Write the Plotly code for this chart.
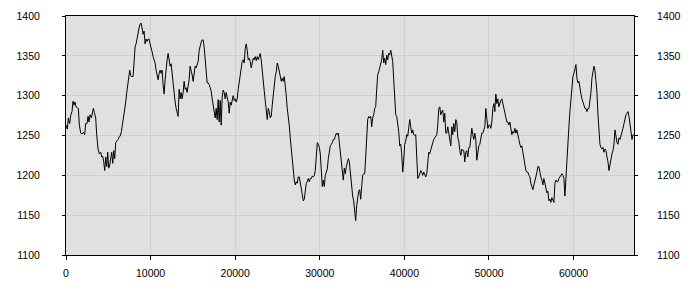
import numpy as np
import plotly.graph_objects as go

# sample positions (first samples irregular, then regular runs)
x_head = [0,158,276,434,552,710,828,947,1065,1184,1341,1460,1578,1736,1894,2051,2209,2328,2485,2604,
          2722,2840,2998,3117,3235,3353,3511,3629,3787,3945,4103,4221,4340,4458,4576,4695,4813,4931,5050,5168,
          5286,5405,5523,5641,5760,5878,5996,6154,6273,6391,6549,6667,6785,6904,7062,7180,7298,7417,7535,7653,
          7772,7930,8048]
x_run1 = np.linspace(8166, 33493, 215)
x_run2 = np.linspace(33651, 67144, 284)

values = [
1263,1258,1272,1265,1275,1280,1293,1288,1292,1286,1285,1284,1263,1253,1252,1254,1251,1265,1265,1274,
1267,1276,1272,1280,1284,1279,1272,1251,1233,1227,1229,1223,1224,1217,1206,1223,1211,1229,1209,1213,
1221,1229,1215,1231,1221,1241,1243,1245,1248,1249,1255,1263,1272,1280,1292,1304,1314,1322,1332,1325,
1324,1324,1349,1361,1365,1373,1377,1385,1390,1391,1385,1377,1381,1365,1371,1368,1371,1371,1365,1357,
1355,1349,1345,1341,1332,1326,1320,1328,1332,1328,1332,1314,1302,1320,1339,1345,1353,1341,1337,1340,
1326,1310,1304,1292,1284,1280,1274,1308,1296,1304,1296,1304,1318,1308,1310,1304,1312,1320,1337,1332,
1326,1318,1330,1337,1335,1339,1343,1357,1363,1367,1370,1370,1361,1345,1322,1316,1316,1314,1310,1306,
1296,1288,1280,1272,1284,1270,1295,1267,1294,1263,1298,1307,1304,1296,1304,1298,1292,1278,1292,1288,
1296,1300,1294,1296,1292,1296,1308,1316,1328,1337,1343,1345,1341,1359,1365,1357,1345,1347,1343,1335,
1341,1347,1345,1349,1344,1349,1345,1348,1353,1345,1328,1320,1306,1294,1282,1270,1284,1280,1272,1274,
1288,1300,1316,1324,1330,1341,1337,1330,1326,1318,1322,1318,1324,1314,1300,1284,1276,1263,1247,1231,
1219,1204,1194,1188,1192,1190,1198,1198,1192,1186,1176,1168,1170,1180,1190,1192,1196,1192,1196,1196,
1199,1198,1200,1206,1223,1241,1239,1235,1227,1211,1186,1194,1186,1200,1204,1208,1221,1231,1237,1239,
1241,1245,1245,1249,1253,1251,1253,1241,1229,1217,1206,1194,1209,1202,1211,1219,1221,1217,
1198,1186,1174,1168,1158,1143,1162,1174,1180,1182,1170,1186,1200,1202,1202,1223,1247,1270,1274,1272,
1274,1261,1272,1276,1284,1286,1308,1326,1330,1335,1341,1345,1357,1341,1347,1339,1351,1345,1353,1351,
1357,1349,1343,1320,1286,1276,1274,1267,1255,1237,1239,1227,1204,1219,1239,1243,1251,1249,1257,1270,
1261,1253,1257,1251,1250,1251,1223,1196,1198,1202,1206,1204,1200,1204,1200,1198,1202,1217,1229,1227,
1233,1239,1241,1245,1247,1248,1251,1263,1284,1286,1276,1280,1282,1267,1278,1253,1253,1261,1253,1239,
1237,1261,1251,1265,1255,1270,1267,1247,1243,1231,1225,1233,1231,1231,1217,1229,1231,1223,1235,1235,
1247,1259,1251,1245,1253,1245,1219,1231,1237,1239,1245,1253,1253,1257,1261,1284,1267,1259,1263,1263,
1259,1267,1284,1290,1280,1302,1290,1296,1286,1292,1294,1296,1290,1284,1280,1274,1267,1267,1263,1267,
1257,1251,1255,1253,1259,1253,1257,1249,1245,1239,1235,1237,1229,1223,1215,1206,1204,1204,1200,1198,
1190,1186,1182,1188,1192,1198,1204,1211,1211,1202,1198,1194,1188,1196,1188,1186,1178,1180,1168,1170,
1166,1172,1168,1166,1190,1194,1192,1192,1196,1198,1200,1202,1200,1196,1174,1200,1219,1239,1261,1280,
1298,1316,1324,1328,1335,1339,1322,1316,1318,1308,1302,1296,1292,1290,1284,1284,1280,1284,1284,1294,
1304,1322,1332,1337,1332,1320,1304,1276,1255,1239,1235,1233,1235,1229,1233,1231,1223,1217,1206,1215,
1223,1227,1231,1239,1257,1245,1241,1239,1247,1245,1249,1255,1259,1265,1272,1276,1278,1280,1274,1263,
1253,1245,1251,1250,
]
x_values = np.concatenate([np.array(x_head, dtype=float), x_run1, x_run2])

x_ticks = [0, 10000, 20000, 30000, 40000, 50000, 60000]
y_ticks = [1100, 1150, 1200, 1250, 1300, 1350, 1400]

font = dict(family="Liberation Sans, Arial, sans-serif", size=10.5, color="black")

fig = go.Figure()
fig.add_trace(go.Scatter(x=x_values, y=values, mode="lines",
                         line=dict(color="black", width=1), showlegend=False,
                         hoverinfo="skip"))
# carrier for the right-hand axis
fig.add_trace(go.Scatter(x=x_values, y=values, mode="lines", yaxis="y2",
                         line=dict(color="rgba(0,0,0,0)", width=0), showlegend=False,
                         hoverinfo="skip"))

fig.update_layout(
    width=700, height=300,
    margin=dict(l=66, r=66, t=10, b=45),
    paper_bgcolor="white", plot_bgcolor="#e0e0e0",
    font=font,
    xaxis=dict(range=[0, x_values[-1]], tickvals=x_ticks, tickformat="d",
               showgrid=True, gridcolor="#d0d0d0", gridwidth=1,
               showline=True, linecolor="black", linewidth=1, mirror=True,
               ticks="outside", ticklen=4, tickcolor="black",
               ticklabelstandoff=4, zeroline=False),
    yaxis=dict(range=[1100, 1400], tickvals=y_ticks,
               showgrid=True, gridcolor="#d0d0d0", gridwidth=1,
               showline=True, linecolor="black", linewidth=1, mirror=True,
               ticks="outside", ticklen=3, tickcolor="black",
               ticklabelstandoff=20, zeroline=False),
    yaxis2=dict(range=[1100, 1400], tickvals=y_ticks, overlaying="y", side="right",
                showgrid=False, showline=False, ticks="outside", ticklen=3,
                tickcolor="black", ticklabelstandoff=17, zeroline=False),
)
fig.write_html("out.html")
